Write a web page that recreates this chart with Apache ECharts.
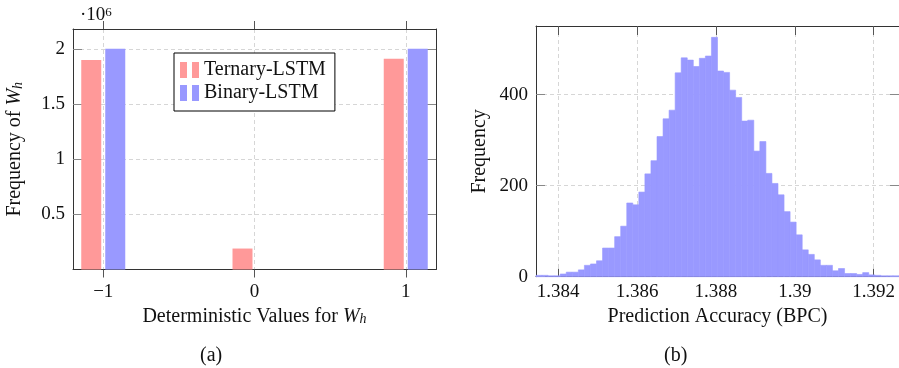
<!DOCTYPE html>
<html>
<head>
<meta charset="utf-8">
<script src="https://cdn.jsdelivr.net/npm/echarts@6/dist/echarts.min.js"></script>
<style>
  html, body { margin: 0; padding: 0; background: #fff; }
  #chart { width: 899px; height: 368px; }
</style>
</head>
<body>
<div id="chart"></div>
<script>
// (a) frequency of the deterministic weight values (x 10^6)
const wValues = [-1, 0, 1];
const ternaryFreq = [1.90, 0.19, 1.91];
const binaryFreq = [2.00, 0, 2.00];
const freqTicksA = [0.5, 1, 1.5, 2];

// (b) histogram of the prediction accuracy, 60 bins
const bpcMin = 1.38344;
const bpcMax = 1.39264;
const bpcCounts = [
  3, 3, 2, 2, 6, 10, 10, 15, 25, 28,
  35, 63, 63, 88, 111, 162, 158, 186, 226, 255,
  308, 347, 366, 448, 481, 476, 462, 480, 485, 526,
  452, 449, 410, 394, 342, 344, 276, 297, 227, 205,
  180, 143, 120, 92, 59, 49, 37, 25, 25, 13,
  18, 7, 7, 5, 9, 4, 3, 2, 2, 2
];
const bpcTicks = [1.384, 1.386, 1.388, 1.39, 1.392];
const freqTicksB = [0, 200, 400];

const serif = "'Liberation Serif', 'DejaVu Serif', serif";
const txt = '#111';
const gridLine = { show: true, lineStyle: { color: '#d6d6d6', width: 1, type: [4, 3] } };
const frame = { show: true, onZero: false, lineStyle: { color: '#333', width: 1 } };
const labelFont = { fontFamily: serif, fontSize: 19, color: txt };
const nameFont = {
  fontFamily: serif, fontSize: 20, color: txt,
  rich: {
    i: { fontFamily: serif, fontSize: 20, fontStyle: 'italic', color: txt },
    s: { fontFamily: serif, fontSize: 14, fontStyle: 'italic', color: txt, verticalAlign: 'bottom', lineHeight: 10 }
  }
};

const binW = (bpcMax - bpcMin) / bpcCounts.length;
const histData = bpcCounts.map((c, i) => [bpcMin + i * binW, bpcMin + (i + 1) * binW, c]);

const chart = echarts.init(document.getElementById('chart'));

const option = {
  animation: false,
  grid: [
    { left: 73, top: 29, width: 363, height: 240.5 },
    { left: 536, top: 26, width: 363.3, height: 250.7 }
  ],
  legend: {
    data: ['Ternary-LSTM', 'Binary-LSTM'],
    orient: 'vertical',
    left: 174,
    top: 53,
    padding: [7, 9, 8, 6],
    itemGap: 3,
    itemWidth: 19,
    itemHeight: 16,
    icon: 'path://M0,0H7V16H0Z M12,0H19V16H12Z',
    borderColor: '#000',
    borderWidth: 1,
    backgroundColor: '#fff',
    textStyle: { fontFamily: serif, fontSize: 20, color: txt }
  },
  xAxis: [
    {
      type: 'value', gridIndex: 0, position: 'bottom', min: -1.2, max: 1.2,
      axisLine: frame,
      axisTick: { show: true, inside: false, length: 8, customValues: wValues, lineStyle: { color: '#555' } },
      axisLabel: {
        customValues: wValues, margin: 13, ...labelFont,
        formatter: v => (v < 0 ? '\u2212' + Math.abs(v) : String(v))
      },
      splitLine: gridLine,
      name: 'Deterministic Values for {i|W}{s|h}',
      nameLocation: 'middle', nameGap: 37, nameTextStyle: nameFont
    },
    {
      type: 'value', gridIndex: 0, position: 'top', min: -1.2, max: 1.2,
      axisLine: frame,
      axisTick: { show: true, inside: false, length: 8, customValues: wValues, lineStyle: { color: '#555' } },
      axisLabel: { show: false },
      splitLine: { show: false }
    },
    {
      type: 'value', gridIndex: 1, position: 'bottom', min: bpcMin, max: bpcMax,
      axisLine: frame,
      axisTick: { show: true, inside: true, length: 8, customValues: bpcTicks, lineStyle: { color: '#555' } },
      axisLabel: {
        customValues: bpcTicks, margin: 6, ...labelFont,
        formatter: v => String(+v.toFixed(3))
      },
      splitLine: gridLine,
      name: 'Prediction Accuracy (BPC)',
      nameLocation: 'middle', nameGap: 30, nameTextStyle: nameFont
    },
    {
      type: 'value', gridIndex: 1, position: 'top', min: bpcMin, max: bpcMax,
      axisLine: frame,
      axisTick: { show: true, inside: true, length: 9, customValues: bpcTicks, lineStyle: { color: '#555' } },
      axisLabel: { show: false },
      splitLine: { show: false }
    }
  ],
  yAxis: [
    {
      type: 'value', gridIndex: 0, position: 'left', min: 0, max: 2.18,
      axisLine: frame,
      axisTick: { show: true, inside: true, length: 9, customValues: freqTicksA, lineStyle: { color: '#888' } },
      axisLabel: { customValues: freqTicksA, margin: 8, ...labelFont },
      splitLine: gridLine,
      name: 'Frequency of {i|W}{s|h}',
      nameLocation: 'middle', nameRotate: 90, nameGap: 48, nameTextStyle: nameFont
    },
    {
      type: 'value', gridIndex: 0, position: 'right', min: 0, max: 2.18,
      axisLine: frame,
      axisTick: { show: true, inside: true, length: 9, customValues: freqTicksA, lineStyle: { color: '#888' } },
      axisLabel: { show: false },
      splitLine: { show: false }
    },
    {
      type: 'value', gridIndex: 1, position: 'left', min: 0, max: 551,
      axisLine: frame,
      axisTick: { show: true, inside: true, length: 9, customValues: freqTicksB, lineStyle: { color: '#888' } },
      axisLabel: { customValues: freqTicksB, margin: 8, ...labelFont },
      splitLine: gridLine,
      name: 'Frequency',
      nameLocation: 'middle', nameRotate: 90, nameGap: 46, nameTextStyle: nameFont
    },
    {
      type: 'value', gridIndex: 1, position: 'right', min: 0, max: 551,
      axisLine: { show: false },
      axisTick: { show: true, inside: true, length: 9, customValues: freqTicksB, lineStyle: { color: '#888' } },
      axisLabel: { show: false },
      splitLine: { show: false }
    }
  ],
  series: [
    {
      name: 'Ternary-LSTM', type: 'bar', xAxisIndex: 0, yAxisIndex: 0,
      barWidth: 20, barGap: '20%',
      itemStyle: { color: '#ff9999' },
      data: wValues.map((x, i) => [x, ternaryFreq[i]])
    },
    {
      name: 'Binary-LSTM', type: 'bar', xAxisIndex: 0, yAxisIndex: 0,
      barWidth: 20, barGap: '20%',
      itemStyle: { color: '#9999ff' },
      data: wValues.map((x, i) => [x, binaryFreq[i]])
    },
    {
      name: 'BPC', type: 'custom', xAxisIndex: 2, yAxisIndex: 2,
      encode: { x: [0, 1], y: 2 },
      data: histData,
      renderItem: function (params, api) {
        const top = api.coord([api.value(0), api.value(2)]);
        const base = api.coord([api.value(1), 0]);
        return {
          type: 'rect',
          shape: { x: top[0], y: top[1], width: base[0] - top[0], height: base[1] - top[1] },
          style: { fill: '#9999ff', stroke: '#9999ff', lineWidth: 0.6 }
        };
      }
    }
  ],
  graphic: [
    {
      type: 'text', left: 80, top: 6,
      style: {
        text: '\u00b710{sup|6}',
        font: '19px ' + serif, fill: txt,
        rich: { sup: { fontFamily: serif, fontSize: 13, fill: txt, verticalAlign: 'top', lineHeight: 14 } }
      }
    },
    { type: 'text', left: 200, top: 346, style: { text: '(a)', font: '20px ' + serif, fill: txt } },
    { type: 'text', left: 664, top: 346, style: { text: '(b)', font: '20px ' + serif, fill: txt } }
  ]
};

chart.setOption(option);
</script>
</body>
</html>
